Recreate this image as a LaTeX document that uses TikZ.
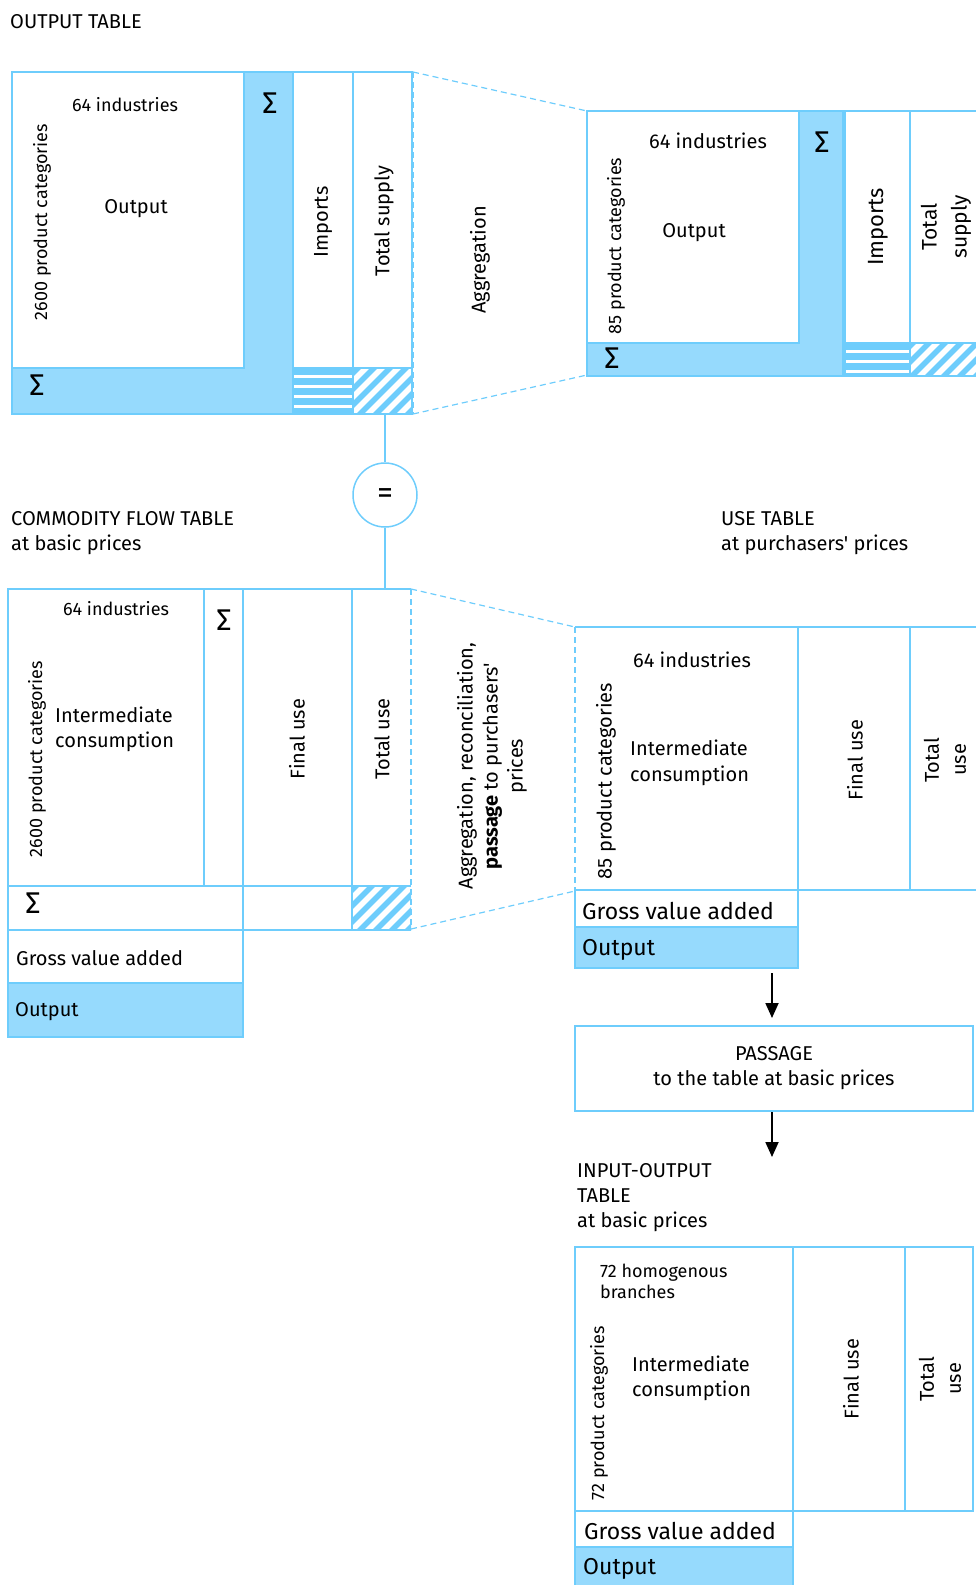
\documentclass[tikz,border=0pt]{standalone}
\usepackage{fontspec}
\setmainfont{Fira Sans}[Ligatures=TeXOff]
\usetikzlibrary{arrows.meta}

\definecolor{tblline}{RGB}{110,205,252}
\definecolor{tblfill}{RGB}{150,218,253}

\newcommand{\fsmall}{\fontsize{18}{21}\selectfont}
\newcommand{\fnorm}{\fontsize{20}{25}\selectfont}
\newcommand{\fbig}{\fontsize{23}{28}\selectfont}
\newcommand{\fsig}{\fontsize{30}{30}\selectfont}

\begin{document}
\begin{tikzpicture}[
    x=1pt, y=-1pt,
    cell/.style={draw=tblline, line width=2pt},
    bluecell/.style={cell, fill=tblfill},
    trap/.style={draw=tblline, line width=1.2pt, dash pattern=on 6pt off 4pt},
    lbl/.style={font=\fnorm, inner sep=0pt, yshift=-2pt},
    lblsmall/.style={font=\fsmall, inner sep=0pt, yshift=-1pt},
    lblbig/.style={font=\fbig, inner sep=0pt, yshift=-2pt},
    sig/.style={font=\fsig, inner sep=0pt},
    vlbl/.style={lbl, rotate=90, align=center},
    link/.style={draw=tblline, line width=1.5pt},
    arr/.style={-{Triangle[width=13pt, length=15pt]}, line width=1.8pt},
  ]
    \useasboundingbox (0,0) rectangle (976,1585);
    \clip (0,0) rectangle (976,1585);

    % Output table
    \node[lbl, anchor=west] (ot-title) at (10,20) {OUTPUT TABLE};
    \draw[cell, fill=white] (12,72) rectangle (244,368);
    \draw[bluecell] (12,368) -- (244,368) -- (244,72) -- (293,72) -- (293,414) -- (12,414) -- cycle;
    \draw[cell] (293,72) rectangle (353,368);
    \draw[cell] (353,72) rectangle (412,368);
    \begin{scope}
      \clip (293,368) rectangle (353,414);
      \foreach \y in {368,378,...,418}
        \fill[tblline] (293,\y) rectangle (353,\y+7);
    \end{scope}
    \begin{scope}
      \clip (353,368) rectangle (412,414);
      \foreach \x in {290,306,...,420}
        \draw[tblline, line width=5.5pt] (\x,420) -- ++(60,-60);
    \end{scope}
    \draw[cell] (293,368) rectangle (353,414);
    \draw[cell] (353,368) rectangle (412,414);
    \node[lblsmall] (ot-ind) at (125,104) {64 industries};
    \node[lbl] (ot-out) at (136,207) {Output};
    \node[lblsmall, rotate=90] (ot-cat) at (42,221) {2600 product categories};
    \node[sig] (ot-sc) at (270,103) {Σ};
    \node[sig] (ot-sr) at (37,385) {Σ};
    \node[vlbl] (ot-imp) at (323,220) {Imports};
    \node[vlbl] (ot-tot) at (384,219) {Total supply};

    % Aggregation
    \draw[trap] (413,72) -- (587,111);
    \draw[trap] (413,414) -- (587,375);
    \draw[trap] (413,72) -- (413,414);
    \node[vlbl] (agg) at (480,258) {Aggregation};

    % Output table, aggregated
    \draw[cell, fill=white] (587,111) rectangle (799,343);
    \draw[bluecell] (587,343) -- (799,343) -- (799,111) -- (843,111) -- (843,376) -- (587,376) -- cycle;
    \draw[cell] (845,111) rectangle (910,343);
    \draw[cell] (910,111) rectangle (990,343);
    \begin{scope}
      \clip (845,343) rectangle (910,376);
      \foreach \y in {343,353,...,383}
        \fill[tblline] (845,\y) rectangle (910,\y+7);
    \end{scope}
    \begin{scope}
      \clip (910,343) rectangle (990,376);
      \foreach \x in {860,876,...,1000}
        \draw[tblline, line width=5.5pt] (\x,380) -- ++(50,-50);
    \end{scope}
    \draw[cell] (845,343) rectangle (910,376);
    \draw[cell] (910,343) rectangle (990,376);
    \node[lbl] (ag-ind) at (708,139) {64 industries};
    \node[lbl] (ag-out) at (694,231) {Output};
    \node[lblsmall, rotate=90] (ag-cat) at (616,245) {85 product categories};
    \node[sig] (ag-sc) at (822,142) {Σ};
    \node[sig] (ag-sr) at (612,358) {Σ};
    \node[vlbl, font=\fontsize{22}{30}\selectfont] (ag-imp) at (878,225) {Imports};
    \node[vlbl, font=\fontsize{21}{30}\selectfont] (ag-tot) at (946,225) {Total\\supply};

    % Equality
    \coordinate (ot-link) at (385,414);
    \coordinate (cf-link) at (385,589);
    \node[circle, draw=tblline, line width=1.5pt, minimum size=64pt, inner sep=0pt, font=\fontsize{32}{32}\selectfont] (eq) at (385,495) {\raisebox{-8pt}[0pt][0pt]{=}};
    \draw[link] (ot-link) -- (eq);
    \draw[link] (eq) -- (cf-link);

    % Headings
    \node[lbl, anchor=west, align=left] (cf-title) at (11,531) {COMMODITY FLOW TABLE\\at basic prices};
    \node[lbl, anchor=west, align=left] (ut-title) at (721,531) {USE TABLE\\at purchasers' prices};

    % Commodity flow table
    \draw[cell] (8,589) rectangle (204,886);
    \draw[cell] (204,589) rectangle (243,886);
    \draw[cell] (243,589) rectangle (352,886);
    \draw[cell] (411,589) -- (352,589) -- (352,930) -- (411,930);
    \draw[cell] (8,886) rectangle (243,930);
    \draw[cell] (243,886) rectangle (352,930);
    \begin{scope}
      \clip (352,886) rectangle (411,930);
      \foreach \x in {290,306,...,420}
        \draw[tblline, line width=5.5pt] (\x,936) -- ++(60,-60);
    \end{scope}
    \draw[cell] (352,886) -- (411,886);
    \draw[cell] (8,930) rectangle (243,983);
    \draw[bluecell] (8,983) rectangle (243,1037);
    \node[lblsmall] (cf-ind) at (116,608) {64 industries};
    \node[lbl, anchor=west, align=left] (cf-ic) at (55,727) {Intermediate\\consumption};
    \node[lblsmall, rotate=90] (cf-cat) at (37,758) {2600 product categories};
    \node[sig] (cf-sc) at (224,620) {Σ};
    \node[sig] (cf-sr) at (33,903) {Σ};
    \node[vlbl] (cf-fin) at (297,737) {Final use};
    \node[vlbl] (cf-tot) at (382,737) {Total use};
    \node[lbl, anchor=west] (cf-gva) at (16,956) {Gross value added};
    \node[lbl, anchor=west] (cf-out) at (15,1010) {Output};

    % Aggregation, reconciliation
    \draw[trap] (411,589) -- (575,627);
    \draw[trap] (411,929) -- (575,891);
    \draw[trap] (411,589) -- (411,929);
    \draw[trap] (575,627) -- (575,891);
    \node[vlbl] (rec) at (492,764) {Aggregation, reconciliation,\\\textbf{passage} to purchasers'\\prices};

    % Use table
    \draw[cell] (575,627) -- (798,627) -- (798,890) -- (575,890);
    \draw[cell] (798,627) rectangle (910,890);
    \draw[cell] (910,627) rectangle (990,890);
    \draw[cell] (575,890) rectangle (798,927);
    \draw[bluecell] (575,927) rectangle (798,968);
    \node[lbl] (ut-ind) at (692,658) {64 industries};
    \node[lbl, anchor=west, align=left, font=\fontsize{20}{26}\selectfont] (ut-ic) at (630,761) {Intermediate\\consumption};
    \node[vlbl] (ut-cat) at (606,779) {85 product categories};
    \node[vlbl] (ut-fin) at (855,758) {Final use};
    \node[vlbl, font=\fontsize{20}{27}\selectfont] (ut-tot) at (945,758) {Total\\use};
    \node[lblbig, anchor=west] (ut-gva) at (582,909) {Gross value added};
    \node[lblbig, anchor=west] (ut-out) at (582,948) {Output};

    % Passage
    \coordinate (ut-arr) at (772,973);
    \node[draw=tblline, line width=2pt, minimum width=398pt, minimum height=85pt, align=center, font=\fnorm] (passage) at (774,1068.5) {PASSAGE\\to the table at basic prices};
    \draw[arr] (ut-arr) -- ([yshift=7pt]ut-arr |- passage.north);
    \coordinate (io-arr) at (772,1157);
    \draw[arr] (passage.south -| io-arr) -- (io-arr);

    % Input-output table
    \node[lbl, anchor=west, align=left] (io-title) at (577,1196) {INPUT-OUTPUT\\TABLE\\at basic prices};
    \draw[cell] (575,1247) rectangle (793,1511);
    \draw[cell] (793,1247) rectangle (905,1511);
    \draw[cell] (905,1247) rectangle (973,1511);
    \draw[cell] (575,1511) rectangle (793,1547);
    \draw[bluecell] (575,1547) rectangle (793,1595);
    \node[lblsmall, anchor=west, align=left] (io-ind) at (600,1280) {72 homogenous\\branches};
    \node[lbl, anchor=west, align=left] (io-ic) at (632,1376) {Intermediate\\consumption};
    \node[lblsmall, rotate=90] (io-cat) at (599,1412) {72 product categories};
    \node[vlbl] (io-fin) at (851,1377) {Final use};
    \node[vlbl, font=\fontsize{20}{27}\selectfont] (io-tot) at (940,1377) {Total\\use};
    \node[lblbig, anchor=west] (io-gva) at (584,1529) {Gross value added};
    \node[lblbig, anchor=west] (io-out) at (583,1567) {Output};
  \end{tikzpicture}
\end{document}
